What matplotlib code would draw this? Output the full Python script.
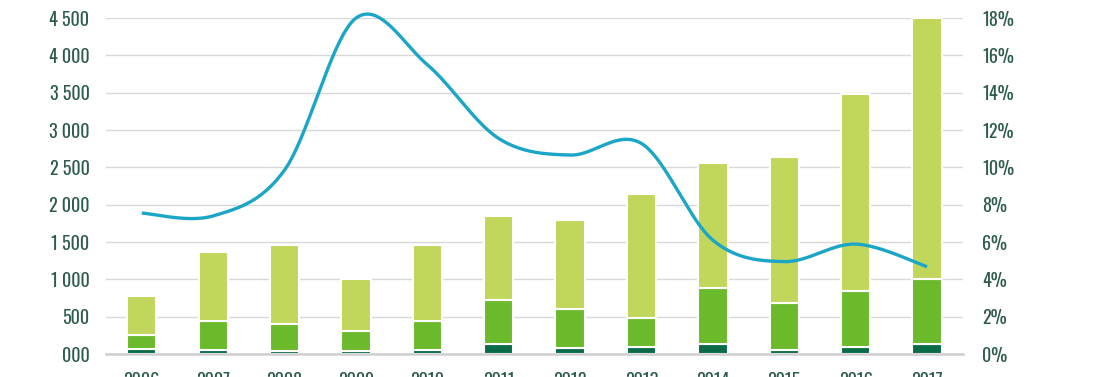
import numpy as np
import matplotlib
matplotlib.use("Agg")
import matplotlib.pyplot as plt
from matplotlib.ticker import FuncFormatter, MultipleLocator

years = ["2006", "2007", "2008", "2009", "2010", "2011",
         "2012", "2013", "2014", "2015", "2016", "2017"]
# stacked segments (bottom -> top)
dark = [70, 50, 40, 40, 50, 140, 80, 100, 140, 60, 90, 140]
mid = [190, 392, 360, 268, 392, 583, 522, 378, 740, 627, 754, 860]
light = [520, 928, 1060, 702, 1018, 1127, 1198, 1662, 1680, 1953, 2636, 3500]
# rate on right axis (%)
rate = [7.55, 7.4, 9.86, 18.0, 15.5, 11.55, 10.66, 11.28, 6.1, 4.95, 5.89, 4.68]

C_DARK = "#0b6b48"
C_MID = "#6aba2b"
C_LIGHT = "#c1d75c"
C_LINE = "#1ba5c6"
C_TEXT = "#2e5c4c"

plt.rcParams['font.family'] = ['Oswald', 'Antonio', 'Liberation Sans Narrow', 'DejaVu Sans']
plt.rcParams['font.weight'] = 300


def smooth(x, y, n=40):
    # Catmull-Rom like the Excel "smoothed line"
    x = np.asarray(x, float)
    y = np.asarray(y, float)
    px = np.concatenate([[x[0]], x, [x[-1]]])
    py = np.concatenate([[y[0]], y, [y[-1]]])
    xs, ys = [], []
    t = np.linspace(0, 1, n)
    for i in range(1, len(px) - 2):
        p0 = np.array([px[i], py[i]])
        p3 = np.array([px[i + 1], py[i + 1]])
        p1 = p0 + (np.array([px[i + 1], py[i + 1]]) - np.array([px[i - 1], py[i - 1]])) / 6
        p2 = p3 - (np.array([px[i + 2], py[i + 2]]) - np.array([px[i], py[i]])) / 6
        b = ((1 - t) ** 3)[:, None] * p0 + (3 * (1 - t) ** 2 * t)[:, None] * p1 \
            + (3 * (1 - t) * t ** 2)[:, None] * p2 + (t ** 3)[:, None] * p3
        xs.extend(b[:, 0])
        ys.extend(b[:, 1])
    return np.array(xs), np.array(ys)


fig = plt.figure(figsize=(10.94, 3.77), dpi=100)
ax = fig.add_axes([0.097, 0.061, 0.783, 0.891])
x = np.arange(len(years))
w = 0.41

ax.bar(x, dark, w, color=C_DARK, edgecolor="white", linewidth=1.5, zorder=2)
ax.bar(x, mid, w, bottom=dark, color=C_MID, edgecolor="white", linewidth=1.5, zorder=2)
bottom2 = np.array(dark) + np.array(mid)
ax.bar(x, light, w, bottom=bottom2, color=C_LIGHT, edgecolor="white", linewidth=1.5, zorder=2)

ax.set_xlim(-0.5, len(years) - 0.5)
ax.set_ylim(0, 4500)
ax.yaxis.set_major_locator(MultipleLocator(500))
ax.yaxis.set_major_formatter(FuncFormatter(
    lambda v, p: "000" if v == 0 else f"{v:,.0f}".replace(",", " ")))
ax.grid(axis="y", color="#d9d9d9", linewidth=1.0, zorder=0)
ax.set_axisbelow(True)
for s in ["top", "right", "left"]:
    ax.spines[s].set_visible(False)
ax.spines["bottom"].set_color("#cfcfcf")
ax.spines["bottom"].set_linewidth(1.8)
ax.set_xticks(x)
ax.set_xticklabels(years)
ax.tick_params(axis="both", length=0, labelsize=13, colors=C_TEXT)
ax.tick_params(axis="y", pad=12)
ax.tick_params(axis="x", pad=13)

ax2 = ax.twinx()
ax2.set_ylim(0, 18)
ax2.yaxis.set_major_locator(MultipleLocator(2))
ax2.yaxis.set_major_formatter(FuncFormatter(lambda v, p: f"{v:.0f}%"))
for s in ax2.spines.values():
    s.set_visible(False)
ax2.tick_params(axis="y", length=0, labelsize=13, colors=C_TEXT, pad=14)

sx, sy = smooth(x, rate)
ax2.plot(sx, sy, color=C_LINE, linewidth=2.4, solid_capstyle="butt", clip_on=False, zorder=3)

fig.savefig("out.png", dpi=100)
